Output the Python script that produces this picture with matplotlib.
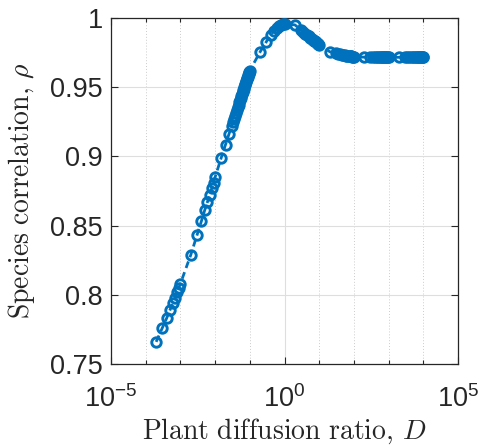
import matplotlib
matplotlib.use("Agg")
import matplotlib.pyplot as plt
import numpy as np

# ---- data ----
D_dec1 = [2e-4, 3e-4, 4e-4, 5e-4, 6e-4, 7e-4, 8e-4, 9e-4, 1e-3]
rho_dec1 = [0.766, 0.776, 0.783, 0.789, 0.794, 0.798, 0.802, 0.805, 0.808]

D_dec2 = [2e-3, 3e-3, 4e-3, 5e-3, 6e-3, 7e-3, 8e-3, 9e-3, 1e-2]
rho_dec2 = [0.829, 0.843, 0.853, 0.861, 0.867, 0.872, 0.877, 0.881, 0.885]

D_dec3 = [1.5e-2, 2e-2, 2.5e-2, 3e-2, 3.25e-2, 3.5e-2, 3.75e-2, 4e-2, 4.25e-2,
          4.5e-2, 4.75e-2, 5e-2, 5.25e-2, 5.5e-2, 5.75e-2, 6e-2, 6.25e-2,
          6.5e-2, 6.75e-2, 7e-2, 7.25e-2, 7.5e-2, 7.75e-2, 8e-2, 8.25e-2,
          8.5e-2, 8.75e-2, 9e-2, 9.25e-2, 9.5e-2, 9.75e-2, 1e-1]
rho_dec3 = [0.899, 0.9086, 0.916, 0.922, 0.9247, 0.9272, 0.9294, 0.9316, 0.9336,
            0.9355, 0.9373, 0.9390, 0.9406, 0.9422, 0.9436, 0.9451, 0.9464,
            0.9477, 0.9490, 0.9502, 0.9513, 0.9525, 0.9536, 0.9546, 0.9556,
            0.9566, 0.9576, 0.9585, 0.9594, 0.9603, 0.9612, 0.9620]

D_dec4 = [0.2, 0.3, 0.4, 0.5, 0.6, 0.7, 0.8, 0.9, 1.0]
rho_dec4 = [0.9757, 0.9829, 0.9877, 0.9905, 0.9925, 0.994, 0.995, 0.9955, 0.996]

D_dec5 = [2, 3, 3.5, 4, 4.5, 5, 5.5, 6, 6.5, 7, 7.5, 8, 8.5, 9, 9.5, 10]
rho_dec5 = [0.995, 0.9914, 0.9900, 0.9888, 0.9877, 0.9868, 0.9859, 0.9851,
            0.9844, 0.9837, 0.9831, 0.9825, 0.9820, 0.9815, 0.9810, 0.9805]

D_dec6 = [20, 30, 35, 40, 45, 50, 55, 60, 65, 70, 75, 80, 85, 90, 95, 100]
rho_dec6 = [0.9757, 0.9745, 0.9741, 0.9737, 0.9734, 0.9732, 0.9730, 0.9728,
            0.9727, 0.9725, 0.9724, 0.9723, 0.9722, 0.9721, 0.9721, 0.9720]

D_dec7 = [200, 300, 350, 400, 450, 500, 550, 600, 650, 700, 750, 800, 850,
          900, 950, 1000]
rho_dec7 = [0.9717, 0.9717, 0.9716, 0.9716, 0.9716, 0.9716, 0.9716, 0.9716,
            0.9716, 0.9716, 0.9716, 0.9716, 0.9716, 0.9716, 0.9716, 0.9716]

D_dec8 = [2000, 3000, 3500, 4000, 4500, 5000, 5500, 6000, 6500, 7000, 7500,
          8000, 8500, 9000, 9500, 10000]
rho_dec8 = [0.9716, 0.9716, 0.9716, 0.9716, 0.9716, 0.9716, 0.9716, 0.9716,
            0.9716, 0.9716, 0.9716, 0.9716, 0.9716, 0.9716, 0.9716, 0.9716]

D = D_dec1 + D_dec2 + D_dec3 + D_dec4 + D_dec5 + D_dec6 + D_dec7 + D_dec8
rho = rho_dec1 + rho_dec2 + rho_dec3 + rho_dec4 + rho_dec5 + rho_dec6 + rho_dec7 + rho_dec8

xticks = [1e-5, 1e0, 1e5]
xticklabels = [r'$\mathregular{10^{-5}}$', r'$\mathregular{10^{0}}$', r'$\mathregular{10^{5}}$']
yticks = [0.75, 0.8, 0.85, 0.9, 0.95, 1.0]
yticklabels = ['0.75', '0.8', '0.85', '0.9', '0.95', '1']

# ---- style ----
plt.rcParams['font.family'] = ['Liberation Sans', 'DejaVu Sans']
plt.rcParams['mathtext.fontset'] = 'custom'
plt.rcParams['mathtext.rm'] = 'Liberation Sans'
plt.rcParams['mathtext.it'] = 'Liberation Sans:italic'
plt.rcParams['mathtext.sf'] = 'Liberation Sans'

dark = '#262626'
blue = '#0072BD'

fig = plt.figure(figsize=(4.82, 4.48), dpi=100)
ax = fig.add_axes([0.2303, 0.1875, 0.7199, 0.7723])

ax.plot(D, rho, linestyle='--', dashes=(2.5, 1.6), color=blue, linewidth=2.0,
        marker='o', markersize=6.8, markerfacecolor='none',
        markeredgecolor=blue, markeredgewidth=2.1, zorder=3)

ax.set_xscale('log')
ax.set_xlim(1e-5, 1e5)
ax.set_ylim(0.75, 1.0)

ax.set_xticks(xticks)
ax.set_xticklabels(xticklabels)
ax.xaxis.set_minor_locator(matplotlib.ticker.LogLocator(base=10, subs=(1.0,), numticks=20))
ax.xaxis.set_minor_formatter(matplotlib.ticker.NullFormatter())
ax.set_yticks(yticks)
ax.set_yticklabels(yticklabels)

ax.tick_params(which='both', direction='in', top=True, right=True, colors=dark,
               labelsize=19.5, width=0.8)
ax.tick_params(which='major', length=5)
ax.tick_params(which='minor', length=3)
ax.tick_params(axis='x', which='major', pad=15)
ax.tick_params(axis='y', which='major', pad=6)

ax.grid(True, which='major', color='#dedede', linewidth=0.8, linestyle='-')
ax.grid(True, which='minor', axis='x', color='#cccccc', linewidth=0.7, linestyle=(0, (1, 2)))
ax.set_axisbelow(True)

for s in ax.spines.values():
    s.set_color(dark)
    s.set_linewidth(0.9)

ax.set_xlabel(r'$\mathrm{Plant\ diffusion\ ratio,}\,D$', fontsize=20,
              math_fontfamily='cm', color=dark, labelpad=3)
ax.set_ylabel(r'$\mathrm{Species\ correlation,}\,\rho$', fontsize=20,
              math_fontfamily='cm', color=dark, labelpad=9)

fig.savefig('out.png', dpi=100)
